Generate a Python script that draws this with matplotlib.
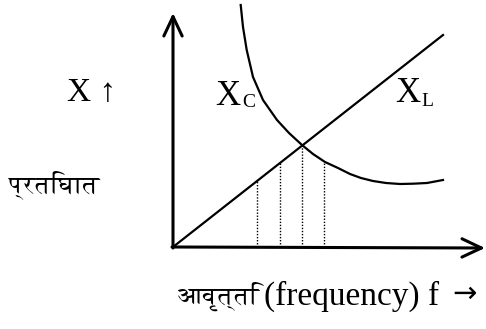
import matplotlib.pyplot as plt
from matplotlib import font_manager

# frequency / reactance values (arbitrary units, origin = corner of axes)
f_xl = [0, 270]
xl = [0, 212]

f_xc = [67.7, 70, 73.7, 80, 90, 104, 116, 129, 140, 152, 165, 177, 188, 200, 213, 227, 240, 254, 270]
xc = [242, 220, 197, 170, 147, 127, 114, 102, 93, 85, 79, 73, 69, 66, 64, 63, 63.3, 64, 67]

f_dot = [84, 107, 129, 151]
dot_top = [66, 84, 101, 85]

# pick a font that can draw Devanagari, if any is around
deva = [f.name for f in font_manager.fontManager.ttflist
        if 'Devanagari' in f.name or 'Lohit' in f.name or 'FreeSerif' in f.name]
fam = ['Liberation Serif'] + deva[:1] + ['DejaVu Sans']

fig = plt.figure(figsize=(4.86, 3.29), dpi=100)
ax = fig.add_axes([0, 0, 1, 1])
ax.set_xlim(-173, 313)
ax.set_ylim(-82, 247)
ax.axis('off')

# axes with open arrow heads
arr = dict(arrowstyle='->,head_length=0.7,head_width=0.33', lw=2.2, color='black',
           mutation_scale=20, shrinkA=0, shrinkB=0)
ax.annotate('', xy=(0, 234), xytext=(0, -1), arrowprops=arr)
ax.annotate('', xy=(312, -1), xytext=(-1, 0), arrowprops=arr)

ax.plot(f_xl, xl, color='black', lw=1.6)
ax.plot(f_xc, xc, color='black', lw=1.6, solid_joinstyle='round')
for f, t in zip(f_dot, dot_top):
    ax.plot([f, f], [0, t], color='black', lw=1.0, ls=(0, (1, 1.2)))

ax.text(-106, 146, 'X ↑', fontsize=24, family=fam, va='baseline')
ax.text(42, 142, 'X', fontsize=25, family=fam, va='baseline')
ax.text(69, 140, 'C', fontsize=14, family=fam, va='baseline')
ax.text(222, 145, 'X', fontsize=25, family=fam, va='baseline')
ax.text(248, 141, 'L', fontsize=14, family=fam, va='baseline')
ax.text(-165, 62, 'प्रतिघात', fontsize=18, family=fam, va='center')
ax.text(4, -49, 'आवृत्ति', fontsize=18, family=fam, va='center')
ax.text(91, -49, '(frequency) f', fontsize=24, family=fam, va='center')
ax.text(279, -47, '→', fontsize=21, family='DejaVu Sans', va='center')

fig.savefig('out.png', dpi=100)
